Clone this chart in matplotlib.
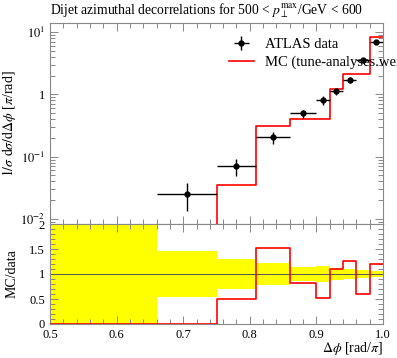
import numpy as np
import matplotlib
matplotlib.use("Agg")
import matplotlib.pyplot as plt
from matplotlib.ticker import FixedLocator, MultipleLocator, LogLocator, FixedFormatter, NullFormatter

plt.rcParams['font.family'] = ['Liberation Serif', 'DejaVu Serif']
plt.rcParams['mathtext.fontset'] = 'stix'

# ---- data ----
bin_edges = [0.5, 0.66, 0.75, 0.81, 0.86, 0.90, 0.92, 0.94, 0.96, 0.98, 1.0]
data_y = [0.0, 0.0256, 0.070, 0.205, 0.494, 0.80, 1.13, 1.70, 3.5, 6.9]
data_err = [0.0, 0.012, 0.021, 0.0445, 0.074, 0.134, 0.139, 0.18, 0.31, 0.43]
mc_y = [0.0, 0.0, 0.035, 0.313, 0.409, 0.41, 1.235, 2.14, 2.1, 8.23]

title = r"Dijet azimuthal decorrelations for 500 < $p_{\perp}^{\mathrm{max}}$/GeV < 600"
ylabel_main = r"$1/\sigma\ \mathrm{d}\sigma/\mathrm{d}\Delta\phi$ [$\pi$/rad]"
ylabel_ratio = "MC/data"
xlabel = r"$\Delta\phi$ [rad/$\pi$]"
legend_data = "ATLAS data"
legend_mc = "MC (tune-analyses.weights)"
xticks = [0.5, 0.6, 0.7, 0.8, 0.9, 1.0]
xticklabels = ["0.5", "0.6", "0.7", "0.8", "0.9", "1.0"]
main_yticks = [1e-2, 1e-1, 1, 1e1]
main_yticklabels = [r"$10^{-2}$", r"$10^{-1}$", "1", r"$10^{1}$"]
ratio_yticks = [0, 0.5, 1, 1.5, 2]
ratio_yticklabels = ["0", "0.5", "1", "1.5", "2"]

edges = np.array(bin_edges)
dy = np.array(data_y)
de = np.array(data_err)
mc = np.array(mc_y)
centers = 0.5 * (edges[:-1] + edges[1:])
halfw = 0.5 * (edges[1:] - edges[:-1])

W, H = 397, 358
fig = plt.figure(figsize=(W / 100, H / 100), dpi=100)
L, R = 50 / W, 383 / W
ax = fig.add_axes([L, 1 - 224 / H, R - L, (224 - 23) / H])
axr = fig.add_axes([L, 1 - 324 / H, R - L, (324 - 224) / H], sharex=ax)

grey = '#888888'
fs = 9.5

for a in (ax, axr):
    for s in a.spines.values():
        s.set_color(grey)
        s.set_linewidth(0.8)
    a.tick_params(which='both', direction='in', top=True, right=True, color=grey, width=0.7, labelsize=fs - 0.5)
    a.tick_params(which='major', length=6)
    a.tick_params(which='minor', length=3.5)

# main panel
mask = dy > 0
h_data = ax.errorbar(centers[mask], dy[mask], xerr=halfw[mask], yerr=de[mask], fmt='o', color='black',
                     ms=3.5, lw=1.0, capsize=0, zorder=3)
mc_step = np.append(mc, mc[-1])
mc_plot = np.where(mc_step > 0, mc_step, 1e-5)
h_mc, = ax.step(edges, mc_plot, where='post', color='red', lw=1.2, zorder=2)
ax.set_yscale('log')
ax.set_ylim(0.0083, 14)
ax.set_xlim(0.5, 1.0)
ax.yaxis.set_major_locator(FixedLocator(main_yticks))
ax.yaxis.set_major_formatter(FixedFormatter(main_yticklabels))
ax.yaxis.set_minor_locator(LogLocator(base=10, subs=np.arange(2, 10)))
ax.yaxis.set_minor_formatter(NullFormatter())
ax.xaxis.set_major_locator(FixedLocator(xticks))
ax.xaxis.set_minor_locator(MultipleLocator(0.02))
plt.setp(ax.get_xticklabels(), visible=False)
ax.set_ylabel(ylabel_main, fontsize=fs + 0.5)
ax.yaxis.set_label_coords(-0.095, 0.5)
ax.set_title(title, fontsize=fs + 0.3, loc='left', pad=6)
ax.legend([h_data, h_mc], [legend_data, legend_mc], loc='upper left', bbox_to_anchor=(0.52, 0.955),
          frameon=False, fontsize=fs + 1, handlelength=1.7, handletextpad=0.75, labelspacing=0.3,
          borderaxespad=0)

# ratio panel
with np.errstate(divide='ignore', invalid='ignore'):
    rel = np.where(dy > 0, de / dy, 10.0)
    ratio = np.where(dy > 0, mc / dy, 0.0)
band_lo = np.append(1 - rel, (1 - rel)[-1])
band_hi = np.append(1 + rel, (1 + rel)[-1])
axr.fill_between(edges, band_lo, band_hi, step='post', color='#ffff00', lw=0, zorder=1)
axr.axhline(1.0, color='#555555', lw=0.7, zorder=2)
axr.step(edges, np.append(ratio, ratio[-1]), where='post', color='red', lw=1.2, zorder=3)
axr.set_ylim(0, 2)
axr.set_xlim(0.5, 1.0)
axr.yaxis.set_major_locator(FixedLocator(ratio_yticks))
axr.yaxis.set_major_formatter(FixedFormatter(ratio_yticklabels))
axr.yaxis.set_minor_locator(MultipleLocator(0.1))
axr.xaxis.set_major_locator(FixedLocator(xticks))
axr.xaxis.set_major_formatter(FixedFormatter(xticklabels))
axr.xaxis.set_minor_locator(MultipleLocator(0.02))
axr.set_ylabel(ylabel_ratio, fontsize=fs + 0.5)
axr.yaxis.set_label_coords(-0.095, 0.5)
axr.set_xlabel(xlabel, fontsize=fs + 0.5)
axr.xaxis.set_label_coords(1.0, -0.16)
axr.xaxis.label.set_horizontalalignment('right')

fig.savefig('out.png', dpi=100)
